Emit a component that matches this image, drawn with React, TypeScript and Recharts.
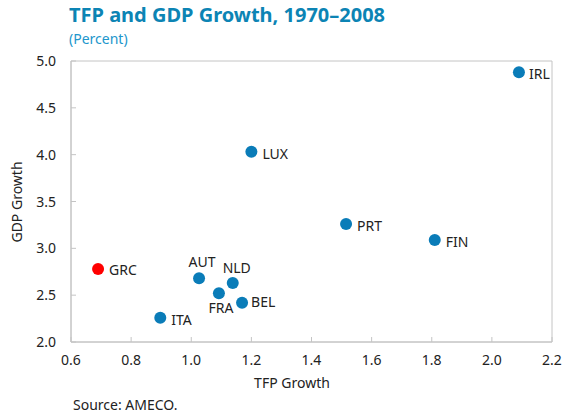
import { ReferenceArea, Scatter, ScatterChart, XAxis, YAxis, LabelList } from "recharts";

const countries = ["IRL", "LUX", "PRT", "FIN", "GRC", "AUT", "NLD", "FRA", "BEL", "ITA"];
const tfpGrowth = [2.09, 1.2, 1.515, 1.81, 0.69, 1.026, 1.138, 1.092, 1.169, 0.897];
const gdpGrowth = [4.88, 4.03, 3.26, 3.09, 2.78, 2.68, 2.63, 2.52, 2.42, 2.26];
const xTicks = [0.6, 0.8, 1.0, 1.2, 1.4, 1.6, 1.8, 2.0, 2.2];
const yTicks = [2.0, 2.5, 3.0, 3.5, 4.0, 4.5, 5.0];
const highlighted = "GRC";

const data = countries.map((name, i) => ({ name, tfp: tfpGrowth[i], gdp: gdpGrowth[i] }));

// where each country's label sits relative to its dot
const labelOffsets: Record<string, { dx: number; dy: number; anchor: string }> = {
  IRL: { dx: 10, dy: 2, anchor: "start" },
  LUX: { dx: 11, dy: 2, anchor: "start" },
  PRT: { dx: 11, dy: 2, anchor: "start" },
  FIN: { dx: 11, dy: 2, anchor: "start" },
  GRC: { dx: 11, dy: 1, anchor: "start" },
  AUT: { dx: 3, dy: -16, anchor: "middle" },
  NLD: { dx: 4, dy: -15, anchor: "middle" },
  FRA: { dx: 2, dy: 15, anchor: "middle" },
  BEL: { dx: 9, dy: -1, anchor: "start" },
  ITA: { dx: 11, dy: 2, anchor: "start" },
};

const FONT = "'Noto Sans', sans-serif";
const AXIS = "#c4c4c4";
const BLUE = "#0a7cb8";
const FS = 14;

const XTick = ({ x, y, payload }: any) => (
  <g>
    <line x1={x} x2={x} y1={y - 5} y2={y} stroke={AXIS} />
    <text x={x} y={y + 23} textAnchor="middle" fontSize={FS} fill="#222" fontFamily={FONT}>
      {Number(payload.value).toFixed(1)}
    </text>
  </g>
);

const YTick = ({ x, y, payload }: any) => (
  <g>
    <line x1={x} x2={x + 5} y1={y} y2={y} stroke={AXIS} />
    <text x={x - 15} y={y + 5} textAnchor="end" fontSize={FS} fill="#222" fontFamily={FONT}>
      {Number(payload.value).toFixed(1)}
    </text>
  </g>
);

const Dot = ({ cx, cy, payload }: any) => (
  <circle cx={cx} cy={cy} r={6} fill={payload.name === highlighted ? "#ff0000" : BLUE} />
);

const CountryLabel = ({ x, y, width, height, value }: any) => {
  const o = labelOffsets[value];
  const cx = x + width / 2;
  const cy = y + height / 2;
  return (
    <text x={cx + o.dx} y={cy + o.dy + 5} textAnchor={o.anchor} fontSize={FS} fill="#222" fontFamily={FONT}>
      {value}
    </text>
  );
};

export default function App() {
  return (
    <div style={{ position: "fixed", left: 0, top: 0, width: 568, height: 414, background: "#fff", fontFamily: FONT }}>
      <div style={{ position: "absolute", left: 69, top: 1, fontSize: 20, fontWeight: 700, color: "#0c84b4" }}>
        TFP and GDP Growth, 1970–2008
      </div>
      <div style={{ position: "absolute", left: 69, top: 29, fontSize: 14, color: "#2196cc" }}>(Percent)</div>
      <ScatterChart width={568} height={414} margin={{ top: 61, right: 16, bottom: 42, left: 31 }}>
        <ReferenceArea x1={0.6} x2={2.2} y1={2} y2={5} fill="none" stroke={AXIS} strokeWidth={1} />
        <XAxis
          type="number"
          dataKey="tfp"
          domain={[0.6, 2.2]}
          ticks={xTicks}
          height={30}
          tickSize={0}
          tickMargin={0}
          axisLine={{ stroke: AXIS }}
          tick={XTick}
          interval={0}
        />
        <YAxis
          type="number"
          dataKey="gdp"
          domain={[2, 5]}
          ticks={yTicks}
          width={40}
          tickSize={0}
          tickMargin={0}
          axisLine={{ stroke: AXIS }}
          tick={YTick}
          interval={0}
        />
        <Scatter data={data} shape={<Dot />} isAnimationActive={false}>
          <LabelList dataKey="name" content={<CountryLabel />} />
        </Scatter>
        <text x={292} y={388} textAnchor="middle" fontSize={FS} fill="#222" fontFamily={FONT}>
          TFP Growth
        </text>
        <text
          x={22}
          y={202}
          textAnchor="middle"
          fontSize={FS}
          fill="#222"
          fontFamily={FONT}
          transform="rotate(-90 22 202)"
        >
          GDP Growth
        </text>
        <text x={73} y={410} fontSize={FS} fill="#222" fontFamily={FONT}>
          Source: AMECO.
        </text>
      </ScatterChart>
    </div>
  );
}
